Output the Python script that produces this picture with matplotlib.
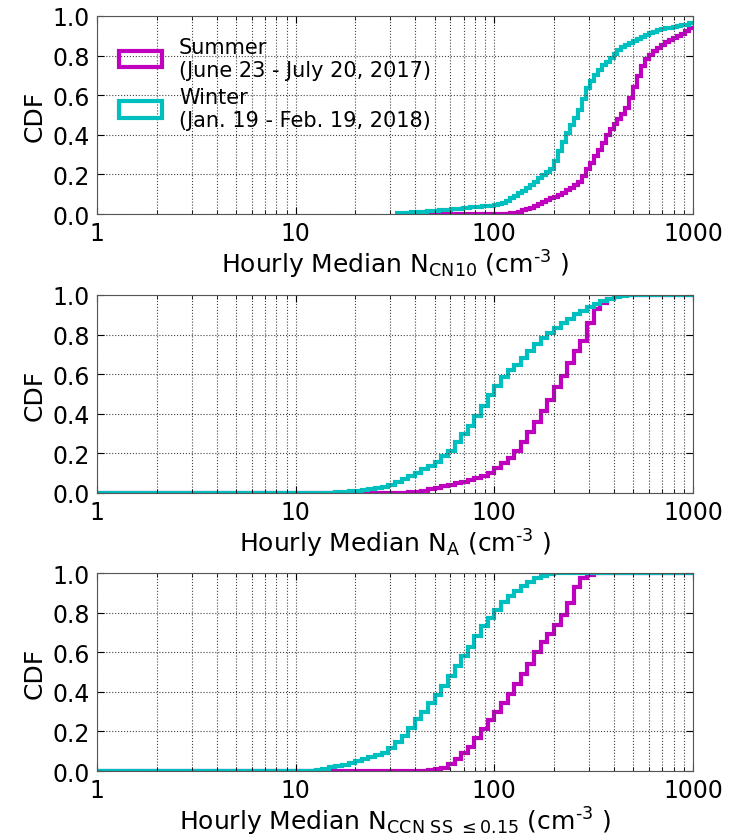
import numpy as np
import matplotlib
matplotlib.use("Agg")
from matplotlib import pyplot as plt
from matplotlib.patches import Patch
from matplotlib.ticker import FixedLocator, FixedFormatter

# panel 1 (N_CN10): bins of 1/50 decade starting at 10^1.5
cn10_start = 1.5
cn10_summer = [0, 0, 0, 0, 0, 0, 0, 0, 0, 0,
               0, 0, 0, 0, 0, 0, 0, 0, 0, 0,
               0, 0, 0, 0, 0, 0, 0, 0.0005, 0.001, 0.003,
               0.006, 0.012, 0.018, 0.025, 0.032, 0.04, 0.05, 0.06, 0.07, 0.079,
               0.086, 0.095, 0.108, 0.12, 0.131, 0.145, 0.162, 0.19, 0.225, 0.26,
               0.293, 0.325, 0.36, 0.4, 0.428, 0.455, 0.48, 0.505, 0.535, 0.585,
               0.64, 0.695, 0.745, 0.785, 0.805, 0.823, 0.84, 0.854, 0.868, 0.878,
               0.889, 0.899, 0.91, 0.925, 0.94]
cn10_winter = [0.003, 0.004, 0.006, 0.007, 0.008, 0.009, 0.011, 0.012, 0.013, 0.015,
               0.016, 0.018, 0.02, 0.022, 0.024, 0.025, 0.027, 0.029, 0.031, 0.033,
               0.035, 0.037, 0.039, 0.041, 0.043, 0.046, 0.05, 0.056, 0.066, 0.08,
               0.093, 0.105, 0.117, 0.13, 0.145, 0.162, 0.18, 0.198, 0.21, 0.225,
               0.27, 0.32, 0.365, 0.41, 0.45, 0.485, 0.525, 0.58, 0.635, 0.672,
               0.7, 0.725, 0.75, 0.77, 0.79, 0.81, 0.828, 0.842, 0.853, 0.862,
               0.873, 0.883, 0.893, 0.903, 0.912, 0.92, 0.928, 0.936, 0.939, 0.941,
               0.944, 0.947, 0.952, 0.957, 0.963]

# panels 2 and 3: bins of 1/30 decade from 1 to 1000, values given from a start bin
na_summer_start = 46
na_summer = [0.001, 0.003, 0.005, 0.008, 0.018, 0.025, 0.033, 0.04, 0.05, 0.058,
             0.066, 0.074, 0.085, 0.1, 0.125, 0.15, 0.175, 0.21, 0.255, 0.31,
             0.36, 0.415, 0.47, 0.535, 0.59, 0.655, 0.715, 0.77, 0.86, 0.93,
             0.96, 0.98, 0.993]
na_winter_start = 36
na_winter = [0.003, 0.005, 0.008, 0.011, 0.014, 0.019, 0.025, 0.032, 0.04, 0.055,
             0.07, 0.088, 0.1, 0.12, 0.135, 0.155, 0.185, 0.21, 0.255, 0.3,
             0.34, 0.39, 0.44, 0.495, 0.54, 0.585, 0.62, 0.645, 0.68, 0.715,
             0.75, 0.785, 0.81, 0.835, 0.86, 0.88, 0.905, 0.92, 0.94, 0.955,
             0.97, 0.98, 0.99, 0.995]
ccn_summer_start = 50
ccn_summer = [0.004, 0.008, 0.017, 0.035, 0.06, 0.09, 0.12, 0.165, 0.21, 0.26,
              0.3, 0.345, 0.39, 0.44, 0.49, 0.54, 0.6, 0.65, 0.69, 0.74,
              0.79, 0.85, 0.93, 0.975, 0.99]
ccn_winter_start = 33
ccn_winter = [0.007, 0.012, 0.018, 0.025, 0.032, 0.042, 0.052, 0.062, 0.07, 0.08,
              0.09, 0.115, 0.145, 0.175, 0.215, 0.265, 0.3, 0.345, 0.385, 0.43,
              0.48, 0.53, 0.58, 0.625, 0.68, 0.73, 0.775, 0.815, 0.855, 0.885,
              0.91, 0.935, 0.955, 0.973, 0.986, 0.993]

labels = ["Summer\n(June 23 - July 20, 2017)", "Winter\n(Jan. 19 - Feb. 19, 2018)"]
colors = ["m", "c"]
xlabels = [r"Hourly Median N$_{\mathrm{CN10}}$ (cm$^{\text{-}3}$ )",
           r"Hourly Median N$_{\mathrm{A}}$ (cm$^{\text{-}3}$ )",
           r"Hourly Median N$_{\mathrm{CCN\ SS\ \leq0.15}}$ (cm$^{\text{-}3}$ )"]


def full_bins(start, vals, nbins=90):
    return np.concatenate([np.zeros(start), vals, np.ones(nbins - start - len(vals))])


edges30 = np.logspace(0, 3, 91)
edges_cn10 = np.logspace(cn10_start, 3, len(cn10_winter) + 1)

series = [
    [(cn10_summer, edges_cn10), (cn10_winter, edges_cn10)],
    [(full_bins(na_summer_start, na_summer), edges30), (full_bins(na_winter_start, na_winter), edges30)],
    [(full_bins(ccn_summer_start, ccn_summer), edges30), (full_bins(ccn_winter_start, ccn_winter), edges30)],
]

fig = plt.figure(figsize=(7.38, 8.37), dpi=100)
tops = [0.9797, 0.6464, 0.3142]
h = 0.2366
for i in range(3):
    ax = fig.add_axes([0.1314, tops[i] - h, 0.8076, h])
    for (vals, edges), c in zip(series[i], colors):
        ax.stairs(vals, edges, baseline=None, color=c, linewidth=3)
    ax.set_xscale("log")
    ax.set_xlim(1, 1000)
    ax.set_ylim(0, 1)
    ax.xaxis.set_major_locator(FixedLocator([1, 10, 100, 1000]))
    ax.xaxis.set_major_formatter(FixedFormatter(["1", "10", "100", "1000"]))
    ax.set_yticks([0, 0.2, 0.4, 0.6, 0.8, 1.0])
    ax.set_yticklabels(["0.0", "0.2", "0.4", "0.6", "0.8", "1.0"])
    ax.tick_params(which="both", direction="in", top=True, right=True, labelsize=17)
    ax.tick_params(which="major", length=5, pad=5)
    ax.tick_params(which="minor", length=3)
    ax.grid(True, which="major", linestyle=":", color="#444444", linewidth=0.8)
    ax.xaxis.grid(True, which="minor", linestyle=":", color="#444444", linewidth=0.8)
    for sp in ax.spines.values():
        sp.set_color("#555555")
    ax.set_ylabel("CDF", fontsize=18, labelpad=4)
    ax.set_xlabel(xlabels[i], fontsize=18, labelpad=2)
    if i == 0:
        handles = [Patch(facecolor="none", edgecolor=c, linewidth=3) for c in colors]
        ax.legend(handles, labels, loc="upper left", frameon=False, fontsize=15,
                  handlelength=2.1, handleheight=0.85, handletextpad=0.8,
                  labelspacing=0.35, bbox_to_anchor=(0.005, 0.99))

fig.savefig("out.png", dpi=100)
